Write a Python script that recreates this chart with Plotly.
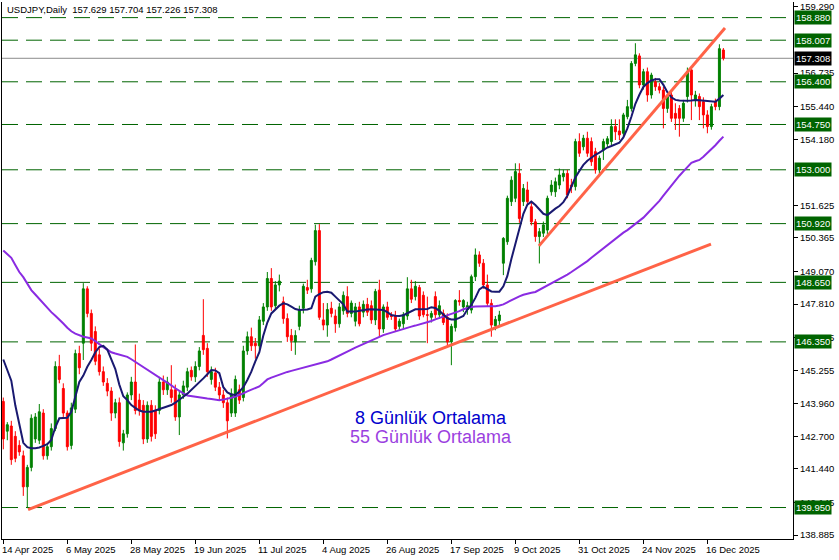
import plotly.graph_objects as go

# ---------------- data ----------------
opens = [144.05,142.90,143.10,142.70,142.35,141.95,140.75,141.50,142.60,142.55,
         143.60,141.95,142.30,143.00,145.40,144.55,143.60,142.35,143.75,145.90,
         146.30,148.40,147.45,146.75,145.85,145.20,144.75,144.45,143.60,144.00,
         142.45,142.80,144.30,144.80,144.10,143.90,142.60,143.90,143.70,143.70,
         144.80,144.50,144.50,144.50,143.45,144.30,144.60,145.25,145.00,145.40,
         146.60,146.10,144.90,145.15,144.60,144.30,144.00,143.60,143.60,144.50,
         144.20,146.00,146.55,146.30,146.20,147.15,147.70,148.80,147.75,148.55,
         147.90,147.25,146.60,146.35,146.95,147.65,148.45,148.40,149.45,150.65,
         147.20,147.00,147.65,147.35,147.05,147.55,148.10,147.45,147.15,147.70,
         147.50,147.80,147.75,147.20,148.35,146.85,147.70,147.38,147.35,146.95,
         147.05,147.35,148.40,148.10,148.45,148.15,147.40,147.30,148.10,147.40,
         147.45,147.30,146.35,146.90,147.95,147.70,147.60,147.58,148.87,149.71,
         149.39,148.55,147.84,146.97,147.17,149.39,150.22,151.77,151.90,152.86,
         151.77,152.22,151.57,150.99,150.42,150.55,150.67,152.15,152.15,152.41,
         152.73,152.86,152.41,152.35,154.09,153.89,154.22,154.09,153.70,152.99,
         153.76,154.00,154.09,154.67,154.50,154.41,155.05,155.37,157.11,157.40,
         156.28,156.79,155.89,156.40,156.21,156.08,155.37,155.89,155.18,155.37,
         154.99,155.83,156.86,155.70,155.83,155.63,155.12,154.67,155.63,155.44,
         157.629]
highs = [144.20,143.25,143.30,142.90,142.55,142.15,141.60,143.55,143.60,143.95,
         143.75,142.45,143.20,145.60,145.85,144.75,143.70,144.00,146.05,146.20,
         148.62,148.50,147.60,146.95,146.10,145.40,144.95,144.60,144.15,144.20,
         142.95,144.40,145.00,146.25,144.35,144.10,144.05,144.10,143.90,145.00,
         145.05,145.00,145.45,144.70,144.45,144.85,145.35,145.40,145.60,146.15,
         148.00,146.30,145.40,145.35,144.80,144.50,144.20,144.55,145.05,144.70,
         146.20,146.75,146.90,146.50,147.35,147.85,149.05,149.20,148.70,148.95,
         148.10,147.45,146.85,146.80,147.75,148.60,148.75,149.60,150.88,150.90,
         147.85,147.85,147.90,147.60,147.85,148.30,148.50,147.95,147.85,147.90,
         147.95,148.05,147.95,148.40,148.75,147.80,147.90,147.50,147.55,147.25,
         147.50,148.85,148.75,148.70,148.55,148.30,148.10,147.55,148.30,147.95,
         147.60,147.45,147.05,148.00,148.35,148.00,147.90,148.95,149.96,149.85,
         149.55,148.95,148.00,147.35,147.55,150.40,152.00,152.75,153.25,153.25,
         152.45,152.54,151.75,151.10,150.75,151.00,152.00,152.60,152.70,153.05,
         153.00,153.00,152.65,154.20,154.41,154.35,154.47,154.25,153.85,153.55,
         154.20,154.30,154.95,154.95,154.95,155.20,155.70,157.20,157.89,157.50,
         156.90,156.95,156.75,156.55,156.35,156.20,155.90,156.00,155.57,155.50,
         155.70,156.95,157.00,156.05,155.95,155.80,155.30,155.55,155.75,157.85,
         157.704]
lows = [142.20,142.55,141.60,141.70,141.95,140.40,139.93,141.35,142.45,142.40,
        141.80,141.80,142.15,142.90,144.75,143.45,142.15,142.20,143.60,145.10,
        145.65,147.30,146.00,145.45,145.05,144.65,144.25,143.30,143.40,142.30,
        142.15,142.65,144.10,143.55,143.50,142.40,142.45,142.50,142.60,143.55,
        144.30,144.30,144.00,143.30,142.75,144.15,144.45,144.85,144.80,145.25,
        145.85,145.00,144.70,144.45,144.10,143.80,142.62,143.45,143.45,143.95,
        144.05,145.85,146.00,145.70,146.05,147.00,147.55,147.55,147.60,148.30,
        147.05,146.35,146.00,145.85,146.80,147.45,148.20,148.25,149.30,147.20,
        146.80,146.55,147.30,146.70,146.90,147.40,147.30,147.30,146.95,146.95,
        147.30,147.35,147.05,147.00,146.55,146.70,147.20,147.20,146.75,146.80,
        146.85,147.20,147.85,147.95,147.20,147.30,146.30,147.10,147.25,147.25,
        147.00,146.20,145.45,146.75,147.75,147.50,147.40,147.45,148.70,149.25,
        148.40,147.70,146.55,146.80,147.00,148.93,150.10,151.60,151.75,150.95,
        151.60,151.60,150.85,150.22,149.38,150.40,150.50,152.00,151.95,152.25,
        152.55,151.90,152.10,152.20,153.50,153.75,153.50,153.15,152.85,152.85,
        153.38,153.85,153.95,154.15,154.15,154.30,154.95,155.25,157.00,156.15,
        156.10,155.63,155.75,156.05,155.95,154.60,155.20,154.85,154.54,154.28,
        154.85,155.60,154.92,155.44,154.92,154.60,154.41,154.55,155.30,155.30,
        157.226]
closes = [142.60,143.15,141.80,141.85,142.10,140.75,141.50,143.40,143.45,143.65,
          141.95,142.30,143.00,145.40,144.90,143.60,142.30,143.80,145.90,145.35,
          148.40,147.45,146.30,145.60,145.20,144.80,144.45,143.60,144.00,142.50,
          142.80,144.30,144.80,143.70,143.70,142.60,143.90,142.70,142.80,144.80,
          144.50,144.80,144.20,143.45,144.30,144.65,145.20,145.00,145.40,146.00,
          146.05,145.20,145.20,144.60,144.30,144.00,143.30,144.35,144.90,144.10,
          146.00,146.55,146.20,146.20,147.20,147.70,148.80,147.70,148.55,148.70,
          147.25,146.55,146.40,146.60,147.60,148.50,148.35,149.50,150.65,147.30,
          147.00,147.60,147.45,147.05,147.70,148.15,147.45,147.85,147.70,147.05,
          147.80,147.50,147.20,148.30,146.85,147.70,147.30,147.33,146.85,147.15,
          147.40,148.40,148.00,148.50,147.35,147.40,147.38,147.45,147.40,147.75,
          147.10,146.35,146.95,147.95,147.90,147.95,147.75,148.87,149.71,149.39,
          148.55,147.84,147.00,147.22,147.39,150.35,151.90,152.60,152.93,151.12,
          152.28,151.77,150.99,150.42,150.61,150.87,151.90,152.41,152.54,152.80,
          152.86,152.03,152.35,154.09,153.64,154.22,153.64,153.31,152.99,153.45,
          154.09,154.20,154.67,154.47,154.35,155.12,155.44,157.11,157.44,156.28,
          156.79,155.89,156.66,156.21,156.08,155.37,155.83,154.99,154.99,154.99,
          155.57,156.79,155.89,155.89,155.44,155.12,154.67,155.44,155.44,157.68,
          157.308]
ma8 = [145.67,145.25,144.85,143.90,143.10,142.45,142.28,142.24,142.24,142.27,
       142.33,142.40,142.56,143.05,143.40,143.42,143.42,143.65,144.20,144.80,
       145.05,145.39,145.65,145.95,146.15,146.20,146.05,145.70,145.30,144.70,
       144.25,144.10,143.91,143.80,143.70,143.65,143.65,143.65,143.70,143.75,
       143.78,143.85,143.91,144.00,144.10,144.23,144.35,144.49,144.65,144.80,
       144.94,145.10,145.26,145.25,145.14,144.60,144.40,144.32,144.30,144.43,
       144.60,144.88,145.20,145.60,145.95,146.60,147.10,147.45,147.62,147.75,
       147.84,147.80,147.71,147.62,147.58,147.58,147.60,147.65,148.10,148.20,
       148.27,148.29,148.25,148.10,147.95,147.80,147.52,147.52,147.52,147.55,
       147.58,147.60,147.61,147.60,147.58,147.58,147.50,147.39,147.36,147.35,
       147.38,147.45,147.55,147.61,147.61,147.61,147.62,147.69,147.66,147.55,
       147.40,147.26,147.22,147.22,147.28,147.35,147.60,147.78,148.05,148.38,
       148.48,148.40,148.30,148.29,148.29,148.50,148.90,149.55,150.10,150.70,
       151.30,151.65,151.77,151.64,151.45,151.30,151.25,151.38,151.50,151.60,
       151.75,152.00,152.35,152.70,152.95,153.19,153.35,153.48,153.58,153.66,
       153.76,153.86,153.92,154.00,154.05,154.25,154.60,155.05,155.55,155.90,
       156.20,156.35,156.45,156.50,156.50,156.28,156.00,155.80,155.70,155.68,
       155.67,155.67,155.68,155.70,155.69,155.67,155.66,155.65,155.63,155.75,
       155.89]
ma55 = [149.88,149.75,149.60,149.32,149.05,148.85,148.60,148.35,148.18,148.00,
        147.85,147.68,147.50,147.36,147.22,147.06,146.90,146.76,146.67,146.60,
        146.55,146.52,146.48,146.38,146.25,146.15,146.05,145.95,145.90,145.85,
        145.80,145.77,145.68,145.58,145.48,145.38,145.29,145.20,145.10,145.00,
        144.90,144.78,144.67,144.56,144.45,144.36,144.28,144.25,144.23,144.22,
        144.19,144.16,144.14,144.12,144.10,144.12,144.15,144.19,144.24,144.29,
        144.36,144.44,144.50,144.57,144.63,144.76,144.90,144.97,145.03,145.09,
        145.15,145.19,145.23,145.27,145.30,145.34,145.39,145.43,145.47,145.50,
        145.53,145.60,145.67,145.74,145.82,145.90,145.98,146.05,146.13,146.20,
        146.27,146.35,146.43,146.50,146.55,146.61,146.66,146.71,146.77,146.82,
        146.86,146.90,146.94,146.98,147.02,147.06,147.10,147.16,147.22,147.27,
        147.32,147.38,147.43,147.48,147.54,147.61,147.67,147.70,147.72,147.73,
        147.73,147.73,147.73,147.73,147.76,147.80,147.88,147.96,148.05,148.11,
        148.17,148.22,148.25,148.28,148.36,148.44,148.52,148.60,148.69,148.78,
        148.86,148.95,149.05,149.15,149.25,149.35,149.47,149.60,149.72,149.85,
        149.98,150.10,150.22,150.35,150.46,150.57,150.67,150.79,150.91,151.03,
        151.15,151.31,151.47,151.63,151.80,152.00,152.20,152.40,152.60,152.77,
        152.94,153.10,153.27,153.33,153.38,153.50,153.64,153.78,153.95,154.12,
        154.28]

bar_index = list(range(len(closes)))
date_tick_index = [0, 16, 32, 48, 64, 80, 96, 112, 128, 144, 160, 176]
date_tick_labels = ["14 Apr 2025", "6 May 2025", "28 May 2025", "19 Jun 2025",
                    "11 Jul 2025", "4 Aug 2025", "26 Aug 2025", "17 Sep 2025",
                    "9 Oct 2025", "31 Oct 2025", "24 Nov 2025", "16 Dec 2025"]
price_ticks = [159.290, 156.735, 155.440, 154.180, 151.625,
               150.365, 149.070, 147.810, 146.515, 145.255, 143.960, 142.700,
               141.440, 140.145, 138.885]
level_lines = [158.880, 158.007, 156.400, 154.750, 153.000, 150.920, 148.650,
               146.350, 139.950]
last_price = 157.308
trend_lower_x = [6.2, 176.9]
trend_lower_y = [139.87, 150.13]
trend_upper_x = [133.9, 180.4]
trend_upper_y = [150.06, 158.48]
title_text = "USDJPY,Daily  157.629 157.704 157.226 157.308"
legend_texts = ["8 Günlük Ortalama", "55 Günlük Ortalama"]

# ---------------- figure ----------------
FONT = "Liberation Sans, Arial, sans-serif"
fig = go.Figure()

fig.add_trace(go.Candlestick(
    x=bar_index, open=opens, high=highs, low=lows, close=closes,
    increasing=dict(line=dict(color="#008000", width=1), fillcolor="#008000"),
    decreasing=dict(line=dict(color="#FF0000", width=1), fillcolor="#FF0000"),
    whiskerwidth=0, showlegend=False, hoverinfo="skip"))

fig.add_trace(go.Scatter(x=bar_index, y=ma55, mode="lines",
                         line=dict(color="#8A2BE2", width=2), showlegend=False, hoverinfo="skip"))
fig.add_trace(go.Scatter(x=bar_index, y=ma8, mode="lines",
                         line=dict(color="#191970", width=2), showlegend=False, hoverinfo="skip"))
fig.add_trace(go.Scatter(x=trend_lower_x, y=trend_lower_y, mode="lines",
                         line=dict(color="#FF6347", width=3), showlegend=False, hoverinfo="skip"))
fig.add_trace(go.Scatter(x=trend_upper_x, y=trend_upper_y, mode="lines",
                         line=dict(color="#FF6347", width=3), showlegend=False, hoverinfo="skip"))

shapes = []
for lv in level_lines:
    shapes.append(dict(type="line", xref="paper", x0=0, x1=1, yref="y", y0=lv, y1=lv,
                       line=dict(color="#006400", width=1, dash="16px,8px"), layer="below"))
shapes.append(dict(type="line", xref="paper", x0=0, x1=1, yref="y", y0=last_price, y1=last_price,
                   line=dict(color="#8C8C8C", width=1), layer="below"))

annotations = []
for lv in level_lines:
    annotations.append(dict(xref="paper", x=1, xanchor="left", xshift=1, yref="y", y=lv,
                            yanchor="middle", text=f"{lv:.3f}", showarrow=False,
                            bgcolor="#006400", borderpad=1,
                            font=dict(family=FONT, size=9.5, color="white")))
annotations.append(dict(xref="paper", x=1, xanchor="left", xshift=1, yref="y", y=last_price,
                        yanchor="middle", text=f"{last_price:.3f}", showarrow=False,
                        bgcolor="#000000", borderpad=1,
                        font=dict(family=FONT, size=9.5, color="white")))
for ti, tl in zip(date_tick_index, date_tick_labels):
    annotations.append(dict(xref="x", x=ti, xanchor="left", xshift=-3, yref="paper", y=0,
                            yanchor="top", yshift=-3, text=tl, showarrow=False,
                            font=dict(family=FONT, size=9.5, color="black")))
annotations.append(dict(xref="paper", x=0, xanchor="left", xshift=3, yref="paper", y=1,
                        yanchor="top", yshift=0, text=title_text, showarrow=False,
                        font=dict(family=FONT, size=9.5, color="black")))
annotations.append(dict(xref="x", x=106.8, yref="y", y=143.40, text=legend_texts[0],
                        showarrow=False, font=dict(family=FONT, size=18, color="#0000CD")))
annotations.append(dict(xref="x", x=106.8, yref="y", y=142.68, text=legend_texts[1],
                        showarrow=False, font=dict(family=FONT, size=18, color="#9B3FE0")))

fig.update_layout(
    width=839, height=560,
    margin=dict(l=2, r=46, t=2, b=21),
    paper_bgcolor="white", plot_bgcolor="white",
    showlegend=False,
    shapes=shapes, annotations=annotations,
    xaxis=dict(range=[-0.325, 197.4], rangeslider=dict(visible=False),
               showgrid=False, zeroline=False, showline=True, linecolor="black", linewidth=1,
               ticks="outside", ticklen=4, tickcolor="black",
               tickvals=date_tick_index, showticklabels=False, fixedrange=True),
    yaxis=dict(range=[138.734, 159.483], side="right", showgrid=False, zeroline=False,
               showline=True, linecolor="black", linewidth=1, mirror=True,
               ticks="outside", ticklen=4, tickcolor="black",
               tickvals=price_ticks, ticktext=[f"{v:.3f}" for v in price_ticks],
               tickfont=dict(family=FONT, size=9.5, color="black"), fixedrange=True),
)

fig.write_html("out.html", config={"displayModeBar": False},
               post_script="document.body.style.margin='0';document.body.style.overflow='hidden';")
